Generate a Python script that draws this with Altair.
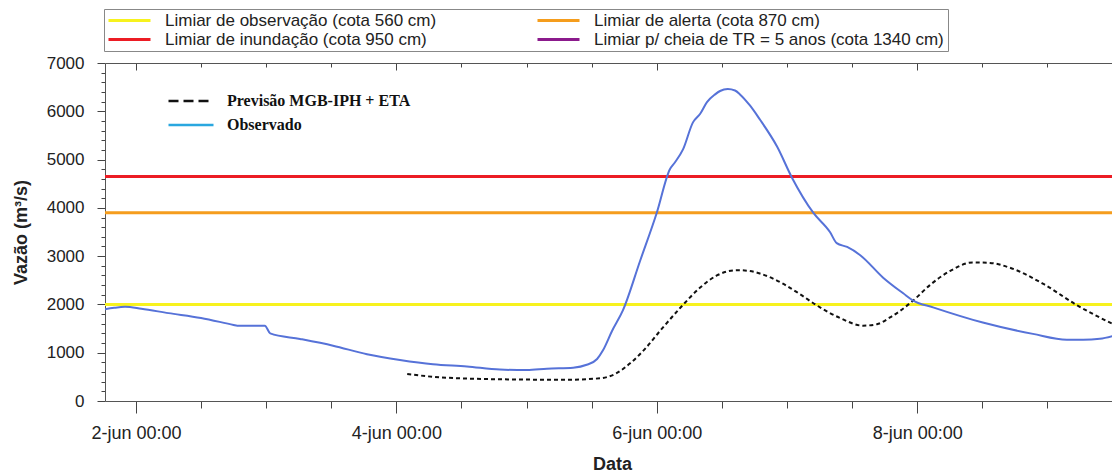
import altair as alt
import pandas as pd

# ---------------- data ----------------
obs_times = ["06-01 17:00", "06-01 20:00", "06-01 22:00", "06-02 01:00", "06-02 06:00",
             "06-02 12:00", "06-02 18:00", "06-02 18:40", "06-02 23:45", "06-03 00:45",
             "06-03 06:15", "06-03 12:20", "06-03 18:35", "06-04 00:40", "06-04 06:45",
             "06-04 13:00", "06-04 19:05", "06-05 00:05", "06-05 03:45", "06-05 08:35",
             "06-05 11:05", "06-05 13:00", "06-05 14:05", "06-05 15:45", "06-05 17:45",
             "06-05 20:55", "06-06 00:00", "06-06 02:25", "06-06 03:20", "06-06 04:50",
             "06-06 06:40", "06-06 08:00", "06-06 09:15", "06-06 10:45", "06-06 11:40",
             "06-06 13:05", "06-06 14:25", "06-06 15:20", "06-06 17:10", "06-06 19:00",
             "06-06 22:10", "06-07 00:55", "06-07 04:50", "06-07 07:55", "06-07 09:10",
             "06-07 11:05", "06-07 13:30", "06-07 17:40", "06-07 21:25", "06-07 23:15",
             "06-08 02:55", "06-08 12:05", "06-08 21:20", "06-09 03:35", "06-09 06:35",
             "06-09 09:40", "06-09 12:30"]
obs_values = [1870, 1930, 1950, 1910, 1820,
              1720, 1575, 1560, 1560, 1400,
              1285, 1145, 970, 850, 760,
              715, 650, 640, 670, 690,
              750, 870, 1050, 1450, 1875,
              2900, 3900, 4800, 4940, 5210,
              5770, 5950, 6190, 6350, 6420,
              6460, 6430, 6350, 6120, 5830,
              5270, 4625, 3900, 3500, 3270,
              3190, 3020, 2560, 2230, 2080,
              1940, 1625, 1390, 1270, 1270,
              1290, 1360]

prev_times = ["06-04 02:00", "06-04 08:00", "06-04 19:05", "06-05 07:25", "06-05 13:30",
              "06-05 16:20", "06-05 19:05", "06-05 21:50", "06-06 00:35", "06-06 04:15",
              "06-06 08:00", "06-06 11:05", "06-06 14:50", "06-06 17:10", "06-06 19:00",
              "06-06 23:15", "06-07 02:25", "06-07 05:30", "06-07 09:45", "06-07 14:00",
              "06-07 16:35", "06-07 19:00", "06-07 23:15", "06-08 02:20", "06-08 06:00",
              "06-08 10:15", "06-08 13:25", "06-08 17:05", "06-08 23:10", "06-09 05:30",
              "06-09 12:30"]
prev_values = [560, 490, 450, 440, 470,
               560, 780, 1080, 1450, 1920,
               2350, 2600, 2710, 2690, 2640,
               2430, 2210, 1980, 1720, 1560,
               1590, 1730, 2080, 2400, 2690,
               2870, 2860, 2760, 2430, 1980,
               1570]

# legend order (filled column by column): observação, inundação | alerta, TR
lim_names = ["Limiar de observação (cota 560 cm)", "Limiar de inundação (cota 950 cm)",
             "Limiar de alerta (cota 870 cm)", "Limiar p/ cheia de TR = 5 anos (cota 1340 cm)"]
lim_colors = ["#f7f21e", "#ec1c24", "#f59d1d", "#8b1a8c"]
lim_drawn = ["Limiar de observação (cota 560 cm)", "Limiar de alerta (cota 870 cm)",
             "Limiar de inundação (cota 950 cm)"]
lim_values = [2000, 3900, 4650]

serie_names = ["Previsão MGB-IPH + ETA", "Observado"]
serie_colors = ["#111111", "#2aa7df"]

tick_times = ["06-02 00:00", "06-02 12:00", "06-03 00:00", "06-03 12:00", "06-04 00:00",
              "06-04 12:00", "06-05 00:00", "06-05 12:00", "06-06 00:00", "06-06 12:00",
              "06-07 00:00", "06-07 12:00", "06-08 00:00", "06-08 12:00", "06-09 00:00"]
x_domain = ["06-01 18:18", "06-09 11:54"]
y_ticks = list(range(0, 7001, 200))


def iso(s):
    return f"2010-{s[:5]}T{s[6:]}:00Z"


def ms(s):
    return int(pd.Timestamp(iso(s)).value // 10**6)


obs_df = pd.DataFrame({"t": [iso(s) for s in obs_times], "v": obs_values})
prev_df = pd.DataFrame({"t": [iso(s) for s in prev_times], "v": prev_values})
lim_df = pd.DataFrame({"limiar": lim_drawn, "v": lim_values})
serie_df = pd.DataFrame({"serie": serie_names})

# ---------------- styling ----------------
W, H = 1007, 338
FONT = "Liberation Sans"
xscale = alt.Scale(type="utc", domain=[ms(x_domain[0]), ms(x_domain[1])])
yscale = alt.Scale(domain=[0, 7000], nice=False, zero=False)
tick_ms = [ms(s) for s in tick_times]
major_x = "utchours(datum.value) == 0 && utcdate(datum.value) % 2 == 0"

yaxis = alt.Axis(
    values=y_ticks,
    labelExpr="datum.value % 1000 == 0 ? datum.value : ''",
    tickSize={"condition": {"test": "datum.value % 1000 == 0", "value": 8}, "value": 4},
    labelFontSize=17, labelColor="#222", labelFont=FONT, labelPadding=13,
    domainColor="#555", tickColor="#444", grid=False, labelOverlap=False,
    title="Vazão (m³/s)", titleFont=FONT, titleFontSize=18, titleFontWeight="bold",
    titleColor="#222", titleX=-84, titleY=H / 2, titleBaseline="middle",
)
x_bottom = alt.Axis(
    orient="bottom", values=tick_ms,
    labelExpr=f"({major_x}) ? utcdate(datum.value) + '-jun ' + utcFormat(datum.value, '%H:%M') : ''",
    tickSize={"condition": {"test": major_x, "value": 12}, "value": 7},
    labelFontSize=18, labelColor="#222", labelFont=FONT, labelPadding=11,
    labelFlush=False, labelOverlap=False, domainColor="#555", tickColor="#444", grid=False,
    title="Data", titleFont=FONT, titleFontSize=18, titleFontWeight="bold", titleColor="#222",
    titleX=507, titleY=63, titleBaseline="middle",
)
x_top = alt.Axis(
    orient="bottom", offset=-H, values=tick_ms, labels=False,
    tickSize={"condition": {"test": major_x, "value": 7}, "value": 4},
    domainColor="#555", tickColor="#444", grid=False, title=None,
)

rules = alt.Chart(lim_df).mark_rule(strokeWidth=3).encode(
    y=alt.Y("v:Q", scale=yscale, axis=yaxis),
    color=alt.Color(
        "limiar:N",
        scale=alt.Scale(domain=lim_names, range=lim_colors),
        legend=alt.Legend(
            title=None, orient="none", legendX=-1, legendY=-54, columns=2,
            columnPadding=99, rowPadding=1, padding=3, clipHeight=17,
            symbolType="stroke", symbolSize=1764, symbolStrokeWidth=3,
            labelFont=FONT, labelFontSize=17, labelColor="#222", labelOffset=13,
            labelLimit=500, strokeColor="#888", fillColor="white",
        ),
    ),
)

prev = alt.Chart(prev_df).mark_line(
    color="#111111", strokeWidth=2, strokeDash=[4, 3], interpolate="monotone", clip=True
).encode(
    x=alt.X("t:T", scale=xscale, axis=x_top),
    y=alt.Y("v:Q", scale=yscale, axis=yaxis),
)

obs = alt.Chart(obs_df).mark_line(
    color="#5672d8", strokeWidth=2, interpolate="monotone", clip=True
).encode(
    x=alt.X("t:T", scale=xscale, axis=x_bottom),
    y=alt.Y("v:Q", scale=yscale, axis=yaxis),
)

serie_legend = alt.Legend(
    title=None, orient="none", legendX=62, legendY=28, padding=0,
    rowPadding=4, clipHeight=20, symbolType="stroke", symbolSize=2025, symbolStrokeWidth=2.5,
    labelFont="Liberation Serif", labelFontSize=16, labelFontWeight="bold",
    labelColor="#111", labelOffset=12, labelLimit=400,
)
legend_layer = alt.Chart(serie_df).mark_line().encode(
    color=alt.Color("serie:N", scale=alt.Scale(domain=serie_names, range=serie_colors),
                    legend=serie_legend),
    strokeDash=alt.StrokeDash("serie:N",
                              scale=alt.Scale(domain=serie_names, range=[[10, 5], [1, 0]]),
                              legend=serie_legend),
).transform_filter("false")

chart = alt.layer(rules, prev, obs, legend_layer).resolve_scale(
    color="independent", strokeDash="independent"
).resolve_axis(x="independent").resolve_legend(
    color="independent", strokeDash="independent"
).properties(
    width=W, height=H,
    autosize=alt.AutoSizeParams(type="none"),
    padding={"left": 105, "top": 63, "right": 0, "bottom": 72},
    background="white",
).configure_view(stroke=None)

chart.save("out.html", embed_options={"renderer": "svg", "actions": False})
